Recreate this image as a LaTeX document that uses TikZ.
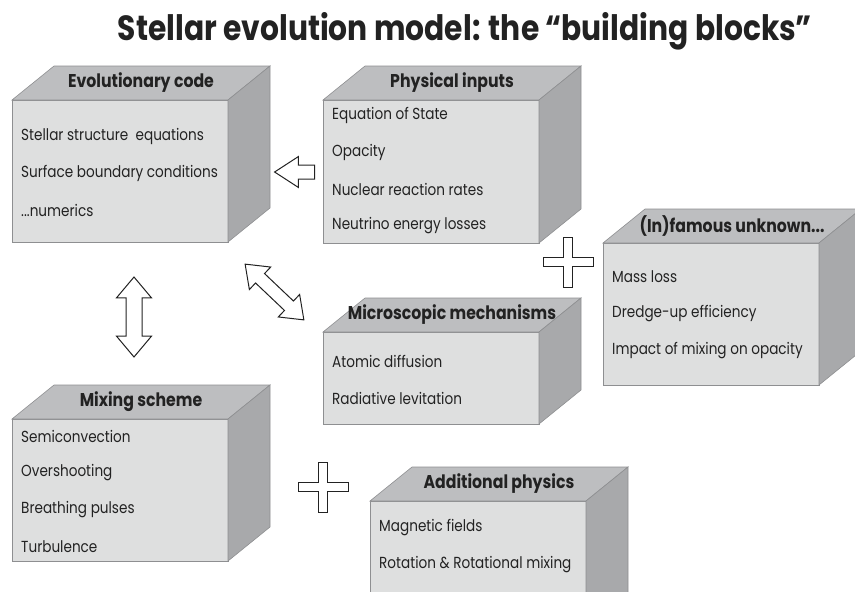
\documentclass[tikz,border=0pt]{standalone}
\usepackage{fontspec}
\setmainfont{Poppins}[FakeStretch=0.85]
\usetikzlibrary{calc,shapes.arrows}

\definecolor{facegray}{HTML}{DEDFDF}
\definecolor{topgray}{HTML}{BDBEC0}
\definecolor{sidegray}{HTML}{A8A9AB}
\definecolor{edgegray}{HTML}{8E8F91}
\definecolor{inkgray}{HTML}{222222}

\tikzset{
  front/.style={draw=edgegray, fill=facegray, line width=0.6pt, minimum width=216pt,
    inner sep=0pt, outer sep=0pt, anchor=north west},
  lid/.style={draw=edgegray, fill=topgray, line width=0.6pt},
  flank/.style={draw=edgegray, fill=sidegray, line width=0.6pt},
  heading/.style={font=\fontsize{18.5}{18.5}\selectfont\bfseries, text=inkgray},
  entry/.style={font=\fontsize{16}{16}\selectfont, text=inkgray, anchor=west, inner sep=0pt},
  hollow/.style={draw=inkgray, fill=white, line width=1pt, line join=miter},
}

% a grey block: name, x, y, height, title, offset of first line, lines
\newcommand\block[7]{
  \node[front, minimum height=#4pt] (#1) at (#2,#3) {};
  \filldraw[lid] (#1.north west) -- ++(42,-34) -- ++(216,0) -- (#1.north east) -- cycle;
  \filldraw[flank] (#1.north east) -- ++(42,-34) -- ++(0,#4) -- (#1.south east) -- cycle;
  \node[heading] (#1-title) at ([shift={(21,-17)}]#1.north) {#5};
  \foreach \t [count=\i] in {#7}
    \node[entry] (#1-\i) at ([shift={(9,{#6+37*(\i-1)})}]#1.north west) {\t};
}

% outlined plus sign around a coordinate
\newcommand\plussign[1]{
  \draw[hollow, shift={(#1)}] (-4.5,-25) -- (4.5,-25) -- (4.5,-4.5) -- (25,-4.5) -- (25,4.5)
    -- (4.5,4.5) -- (4.5,25) -- (-4.5,25) -- (-4.5,4.5) -- (-25,4.5) -- (-25,-4.5)
    -- (-4.5,-4.5) -- cycle;
}

\begin{document}
\begin{tikzpicture}[x=1pt,y=-1pt]
  \useasboundingbox (0,0) rectangle (855,592);
  \clip (0,0) rectangle (855,592);

  \node[font=\fontsize{35}{35}\selectfont\bfseries, text=inkgray] (title) at (465,31)
    {Stellar evolution model: the “building blocks”};

  \block{evo}{12}{100}{142}{Evolutionary code}{36}
    {Stellar structure~ equations, Surface boundary conditions, {{...numerics}}}
  \block{phys}{323}{100}{143}{Physical inputs}{15}
    {Equation of State, Opacity, Nuclear reaction rates, Neutrino energy losses}
  \block{unk}{603}{243}{142}{(In)famous unknown...}{34}
    {Mass loss, Dredge-up efficiency, Impact of mixing on opacity}
  \block{micro}{323}{332}{92}{Microscopic mechanisms}{29}
    {Atomic diffusion, Radiative levitation}
  \block{mix}{12}{419}{142}{Mixing scheme}{17}
    {Semiconvection, Overshooting, Breathing pulses, Turbulence}
  \block{addl}{370}{501}{142}{Additional physics}{27}
    {Magnetic fields, Rotation \& Rotational mixing}

  % links between the blocks
  \node[hollow, single arrow, shape border rotate=180, inner sep=6.5pt, minimum height=40pt,
    minimum width=30pt, single arrow head extend=8.5pt, single arrow tip angle=66] (feed) at (300,172) {};
  \node[hollow, double arrow, rotate=90, inner sep=7.5pt, minimum height=80pt, minimum width=34pt,
    double arrow head extend=9.5pt, double arrow tip angle=80] (mixlink) at (134,317) {};
  \node[hollow, double arrow, rotate=-43.5, inner sep=6pt, minimum height=81pt, minimum width=30pt,
    double arrow head extend=9pt, double arrow tip angle=74] (microlink) at (274.5,292) {};

  \coordinate (plusA) at (568,262);
  \coordinate (plusB) at (323,487);
  \plussign{plusA}
  \plussign{plusB}
\end{tikzpicture}
\end{document}
